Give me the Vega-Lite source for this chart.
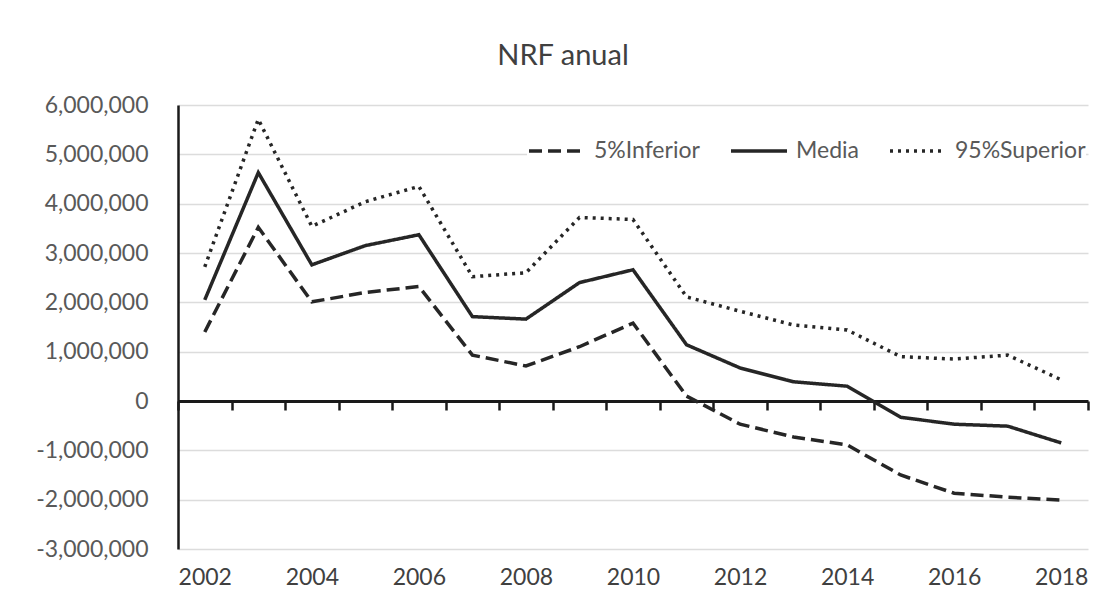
{
  "$schema": "https://vega.github.io/schema/vega-lite/v6.json",
  "width": 910,
  "height": 444,
  "autosize": {"type": "none"},
  "padding": {"left": 178, "top": 105, "right": 24, "bottom": 47},
  "background": "white",
  "title": {"text": "NRF anual", "font": "Lato", "fontSize": 29, "fontWeight": "normal", "color": "#404040", "anchor": "middle", "dx": -70, "offset": 23},
  "data": {"values": [
    {"year": 2002, "series": "5%Inferior", "value": 1400000},
    {"year": 2003, "series": "5%Inferior", "value": 3520000},
    {"year": 2004, "series": "5%Inferior", "value": 2010000},
    {"year": 2005, "series": "5%Inferior", "value": 2200000},
    {"year": 2006, "series": "5%Inferior", "value": 2320000},
    {"year": 2007, "series": "5%Inferior", "value": 930000},
    {"year": 2008, "series": "5%Inferior", "value": 710000},
    {"year": 2009, "series": "5%Inferior", "value": 1100000},
    {"year": 2010, "series": "5%Inferior", "value": 1580000},
    {"year": 2011, "series": "5%Inferior", "value": 100000},
    {"year": 2012, "series": "5%Inferior", "value": -470000},
    {"year": 2013, "series": "5%Inferior", "value": -730000},
    {"year": 2014, "series": "5%Inferior", "value": -890000},
    {"year": 2015, "series": "5%Inferior", "value": -1500000},
    {"year": 2016, "series": "5%Inferior", "value": -1870000},
    {"year": 2017, "series": "5%Inferior", "value": -1950000},
    {"year": 2018, "series": "5%Inferior", "value": -2010000},
    {"year": 2002, "series": "Media", "value": 2050000},
    {"year": 2003, "series": "Media", "value": 4630000},
    {"year": 2004, "series": "Media", "value": 2760000},
    {"year": 2005, "series": "Media", "value": 3150000},
    {"year": 2006, "series": "Media", "value": 3370000},
    {"year": 2007, "series": "Media", "value": 1710000},
    {"year": 2008, "series": "Media", "value": 1660000},
    {"year": 2009, "series": "Media", "value": 2400000},
    {"year": 2010, "series": "Media", "value": 2660000},
    {"year": 2011, "series": "Media", "value": 1140000},
    {"year": 2012, "series": "Media", "value": 670000},
    {"year": 2013, "series": "Media", "value": 390000},
    {"year": 2014, "series": "Media", "value": 300000},
    {"year": 2015, "series": "Media", "value": -330000},
    {"year": 2016, "series": "Media", "value": -470000},
    {"year": 2017, "series": "Media", "value": -510000},
    {"year": 2018, "series": "Media", "value": -850000},
    {"year": 2002, "series": "95%Superior", "value": 2720000},
    {"year": 2003, "series": "95%Superior", "value": 5710000},
    {"year": 2004, "series": "95%Superior", "value": 3540000},
    {"year": 2005, "series": "95%Superior", "value": 4040000},
    {"year": 2006, "series": "95%Superior", "value": 4350000},
    {"year": 2007, "series": "95%Superior", "value": 2520000},
    {"year": 2008, "series": "95%Superior", "value": 2600000},
    {"year": 2009, "series": "95%Superior", "value": 3720000},
    {"year": 2010, "series": "95%Superior", "value": 3680000},
    {"year": 2011, "series": "95%Superior", "value": 2110000},
    {"year": 2012, "series": "95%Superior", "value": 1820000},
    {"year": 2013, "series": "95%Superior", "value": 1540000},
    {"year": 2014, "series": "95%Superior", "value": 1440000},
    {"year": 2015, "series": "95%Superior", "value": 900000},
    {"year": 2016, "series": "95%Superior", "value": 850000},
    {"year": 2017, "series": "95%Superior", "value": 930000},
    {"year": 2018, "series": "95%Superior", "value": 430000}
  ]},
  "layer": [
    {
      "mark": {"type": "line", "color": "#262626", "strokeWidth": 3.5, "strokeCap": "butt"},
      "encoding": {
        "x": {
          "field": "year", "type": "quantitative",
          "scale": {"domain": [2001.5, 2018.5], "nice": false, "zero": false},
          "axis": {"orient": "bottom", "title": null, "values": [2002, 2004, 2006, 2008, 2010, 2012, 2014, 2016, 2018], "format": "d", "domain": false, "ticks": false, "grid": false, "labelPadding": 17, "labelFont": "Lato", "labelFontSize": 23, "labelColor": "#404040"}
        },
        "y": {
          "field": "value", "type": "quantitative",
          "scale": {"domain": [-3000000, 6000000], "nice": false, "zero": false},
          "axis": {"title": null, "values": [-3000000, -2000000, -1000000, 0, 1000000, 2000000, 3000000, 4000000, 5000000, 6000000], "labelExpr": "(datum.value < 0 ? '-' : '') + format(abs(datum.value), ',')", "domainColor": "#1a1a1a", "domainWidth": 2.5, "ticks": false, "labelPadding": 30, "labelFont": "Lato", "labelFontSize": 23, "labelColor": "#595959", "gridColor": "#dcdcdc", "gridWidth": 1.5}
        },
        "strokeDash": {
          "field": "series", "type": "nominal",
          "scale": {"domain": ["5%Inferior", "Media", "95%Superior"], "range": [[13, 6], [1, 0], [3, 5]]},
          "legend": {"title": null, "orient": "none", "legendX": 349, "legendY": 16, "direction": "horizontal", "symbolType": "stroke", "symbolSize": 3136, "symbolStrokeWidth": 3.5, "symbolStrokeColor": "#262626", "labelFont": "Lato", "labelFontSize": 23, "labelColor": "#595959", "labelOffset": 7, "columnPadding": 24, "fillColor": "white"}
        }
      }
    },
    {
      "mark": {"type": "line", "opacity": 0},
      "encoding": {
        "x": {
          "field": "year", "type": "quantitative",
          "axis": {"orient": "top", "offset": -296, "title": null, "values": [2001.5, 2002.5, 2003.5, 2004.5, 2005.5, 2006.5, 2007.5, 2008.5, 2009.5, 2010.5, 2011.5, 2012.5, 2013.5, 2014.5, 2015.5, 2016.5, 2017.5, 2018.5], "labels": false, "grid": false, "domainColor": "#1a1a1a", "domainWidth": 3, "tickColor": "#1a1a1a", "tickWidth": 2.5, "tickSize": -9}
        },
        "y": {
          "field": "value", "type": "quantitative",
          "axis": {"title": null, "values": [-3000000, -2000000, -1000000, 0, 1000000, 2000000, 3000000, 4000000, 5000000, 6000000], "labelExpr": "(datum.value < 0 ? '-' : '') + format(abs(datum.value), ',')", "domainColor": "#1a1a1a", "domainWidth": 2.5, "ticks": false, "labelPadding": 30, "labelFont": "Lato", "labelFontSize": 23, "labelColor": "#595959", "gridColor": "#dcdcdc", "gridWidth": 1.5}
        },
        "detail": {"field": "series"}
      }
    }
  ],
  "resolve": {"axis": {"x": "independent"}},
  "config": {"view": {"stroke": null}}
}
